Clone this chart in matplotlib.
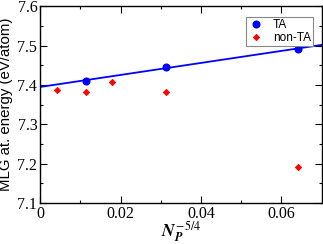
import matplotlib
matplotlib.use("Agg")
import matplotlib.pyplot as plt
from matplotlib.ticker import MultipleLocator

plt.rcParams["mathtext.fontset"] = "stix"

ta_x = [0.0113, 0.03125, 0.0642]
ta_y = [7.411, 7.445, 7.492]
nonta_x = [0.0041, 0.0113, 0.0179, 0.03125, 0.0642]
nonta_y = [7.388, 7.382, 7.407, 7.382, 7.192]
fit_x = [0.0, 0.07]
fit_y = [7.395, 7.502]
xticks = [0, 0.02, 0.04, 0.06]
xtick_labels = ["0", "0.02", "0.04", "0.06"]
yticks = [7.1, 7.2, 7.3, 7.4, 7.5, 7.6]
ytick_labels = ["7.1", "7.2", "7.3", "7.4", "7.5", "7.6"]

fig = plt.figure(figsize=(3.23, 2.44), dpi=100)
ax = fig.add_axes([0.124, 0.168, 0.872, 0.806])

ax.plot(fit_x, fit_y, color="#0000ff", lw=1.3, zorder=2)
ax.plot(ta_x, ta_y, "o", color="#0000ff", ms=4.8, label="TA", zorder=3)
ax.plot(nonta_x, nonta_y, "D", color="#ff0000", ms=3.2, mew=0.6, mec="#ff0000", label="non-TA", zorder=3)

ax.set_xlim(0, 0.07)
ax.set_ylim(7.1, 7.6)
ax.xaxis.set_minor_locator(MultipleLocator(0.01))
ax.yaxis.set_minor_locator(MultipleLocator(0.05))
ax.set_xticks(xticks)
ax.set_xticklabels(xtick_labels, family="Liberation Serif", fontsize=11.5)
ax.set_yticks(yticks)
ax.set_yticklabels(ytick_labels, family="Liberation Serif", fontsize=11.5)
ax.tick_params(which="both", direction="in", top=True, right=True, width=0.8)
ax.tick_params(which="major", length=5, pad=2)
ax.tick_params(which="minor", length=2.5)
for s in ax.spines.values():
    s.set_linewidth(1.0)

ax.set_ylabel("MLG at. energy (eV/atom)", family="Liberation Sans", fontsize=10.8, labelpad=3)
ax.set_xlabel(r"$\mathbfit{N}_{\mathbfit{P}}^{\,\mathit{-5/4}}$", fontsize=12.5, labelpad=-2)

leg = ax.legend(loc="upper right", bbox_to_anchor=(0.968, 0.944), prop={"family": "Liberation Sans", "size": 8.6},
                frameon=True, fancybox=False, edgecolor="#888888", framealpha=1,
                handlelength=1.3, handletextpad=0.8, borderpad=0.15, labelspacing=0.05,
                borderaxespad=0)
leg.get_frame().set_linewidth(0.8)

fig.savefig("out.png", dpi=100)
